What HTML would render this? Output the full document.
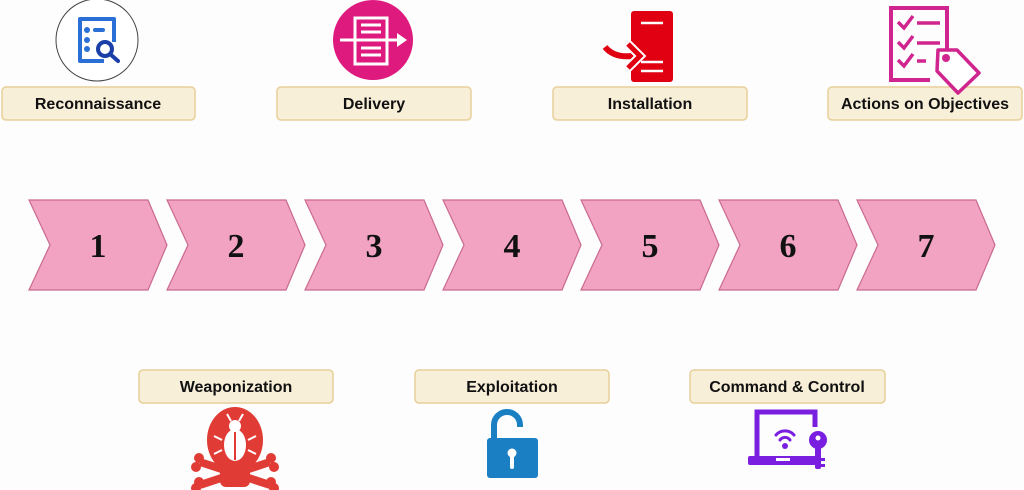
<!DOCTYPE html>
<html><head><meta charset="utf-8"><style>
html,body{margin:0;padding:0;background:#fdfdfd;}
svg{display:block}
.lbl{font-family:"Liberation Sans",sans-serif;font-weight:bold;font-size:16px;fill:#111;text-anchor:middle}
.num{font-family:"Liberation Serif",serif;font-weight:bold;font-size:34px;fill:#111;text-anchor:middle}
</style></head><body>
<svg width="1024" height="490" viewBox="0 0 1024 490" xmlns="http://www.w3.org/2000/svg">
<rect width="1024" height="490" fill="#fdfdfd"/>
<g fill="#f2a3c1" stroke="#c96a8e" stroke-width="1.2">
<polygon points="29,200 148,200 167,245 148,290 29,290 50,245"/>
<polygon points="167,200 286,200 305,245 286,290 167,290 188,245"/>
<polygon points="305,200 424,200 443,245 424,290 305,290 326,245"/>
<polygon points="443,200 562,200 581,245 562,290 443,290 464,245"/>
<polygon points="581,200 700,200 719,245 700,290 581,290 602,245"/>
<polygon points="719,200 838,200 857,245 838,290 719,290 740,245"/>
<polygon points="857,200 976,200 995,245 976,290 857,290 878,245"/>
</g>
<text class="num" x="98" y="257">1</text>
<text class="num" x="236" y="257">2</text>
<text class="num" x="374" y="257">3</text>
<text class="num" x="512" y="257">4</text>
<text class="num" x="650" y="257">5</text>
<text class="num" x="788" y="257">6</text>
<text class="num" x="926" y="257">7</text>
<g fill="#f8efd9" stroke="#e8cf9a" stroke-width="1.5">
<rect x="2" y="87" width="193" height="33" rx="4"/>
<rect x="277" y="87" width="194" height="33" rx="4"/>
<rect x="553" y="87" width="194" height="33" rx="4"/>
<rect x="828" y="87" width="194" height="33" rx="4"/>
<rect x="139" y="370" width="194" height="33" rx="4"/>
<rect x="415" y="370" width="194" height="33" rx="4"/>
<rect x="690" y="370" width="195" height="33" rx="4"/>
</g>
<text class="lbl" x="98" y="109">Reconnaissance</text>
<text class="lbl" x="374" y="109">Delivery</text>
<text class="lbl" x="650" y="109">Installation</text>
<text class="lbl" x="925" y="109">Actions on Objectives</text>
<text class="lbl" x="236" y="392">Weaponization</text>
<text class="lbl" x="512" y="392">Exploitation</text>
<text class="lbl" x="787" y="392">Command &amp; Control</text>
<circle cx="97" cy="40" r="41" fill="#fff" stroke="#444" stroke-width="1"/>
<path d="M104,61 H80 V19 H114 V42" fill="none" stroke="#2a6fd6" stroke-width="4" stroke-linejoin="round"/>
<circle cx="87" cy="30" r="3" fill="#2a6fd6"/><circle cx="87" cy="40" r="3" fill="#2a6fd6"/><circle cx="87" cy="49" r="3" fill="#2a6fd6"/>
<rect x="93" y="28" width="12" height="4" rx="2" fill="#2a6fd6"/>
<circle cx="105" cy="49" r="7" fill="none" stroke="#1a3fa8" stroke-width="4"/>
<line x1="110" y1="54" x2="118" y2="61" stroke="#1a3fa8" stroke-width="4" stroke-linecap="round"/>
<circle cx="373" cy="40" r="40" fill="#de1a7f"/>
<rect x="355" y="18" width="32" height="46" fill="none" stroke="#fff" stroke-width="3"/>
<g stroke="#fff" stroke-width="3"><line x1="361" y1="25" x2="381" y2="25"/><line x1="361" y1="32" x2="381" y2="32"/><line x1="361" y1="48" x2="381" y2="48"/><line x1="361" y1="55" x2="381" y2="55"/><line x1="340" y1="40" x2="398" y2="40"/></g>
<polygon points="397,33 407,40 397,47" fill="#fff"/>
<rect x="631" y="11" width="42" height="71" rx="3" fill="#e00012"/>
<g stroke="#fff" stroke-width="2.5"><line x1="641" y1="23" x2="663" y2="23"/><line x1="641" y1="62" x2="663" y2="62"/><line x1="641" y1="71" x2="663" y2="71"/></g>
<path d="M605,47 Q614,58 632,56" fill="none" stroke="#e00012" stroke-width="6"/>
<polyline points="628,44 640,56 628,68" fill="none" stroke="#fff" stroke-width="9"/>
<polyline points="628,44 640,56 628,68" fill="none" stroke="#e00012" stroke-width="5"/>
<path d="M947,50 V8 H891 V80 H930" fill="none" stroke="#d0258f" stroke-width="4"/>
<g fill="none" stroke="#d0258f" stroke-width="3.5"><polyline points="898,22 904,28 913,16"/><polyline points="898,42 904,48 913,36"/><polyline points="898,60 904,66 913,54"/><line x1="917" y1="23" x2="940" y2="23"/><line x1="917" y1="43" x2="940" y2="43"/><line x1="917" y1="61" x2="926" y2="61"/></g>
<path d="M938,50 L957,50 L979,73 L958,93 L937,71 Z" fill="#fff" stroke="#d0258f" stroke-width="3.5" stroke-linejoin="round"/>
<circle cx="946" cy="58" r="4" fill="#d0258f"/>
<g fill="#e13b35">
<ellipse cx="235" cy="440" rx="28" ry="33"/>
<rect x="220" y="465" width="30" height="22" rx="6"/>
<path d="M200,462 L270,485 M270,462 L200,485" stroke="#e13b35" stroke-width="8"/>
<circle cx="199" cy="458" r="5"/><circle cx="196" cy="467" r="5"/><circle cx="271" cy="458" r="5"/><circle cx="274" cy="467" r="5"/>
<circle cx="199" cy="482" r="5"/><circle cx="196" cy="488" r="5"/><circle cx="271" cy="482" r="5"/><circle cx="274" cy="488" r="5"/>
</g>
<ellipse cx="235" cy="445" rx="11" ry="16" fill="#fff"/>
<circle cx="235" cy="426" r="6" fill="#fff"/>
<line x1="235" y1="432" x2="235" y2="460" stroke="#e13b35" stroke-width="2"/>
<g stroke="#fff" stroke-width="2"><line x1="222" y1="440" x2="214" y2="436"/><line x1="248" y1="440" x2="256" y2="436"/><line x1="222" y1="450" x2="214" y2="454"/><line x1="248" y1="450" x2="256" y2="454"/><line x1="231" y1="421" x2="227" y2="414"/><line x1="239" y1="421" x2="243" y2="414"/></g>
<path d="M494,441 V425 A13,13 0 0 1 520,425 V427" fill="none" stroke="#1b7fc4" stroke-width="6"/>
<rect x="487" y="438" width="51" height="40" rx="3" fill="#1b7fc4"/>
<circle cx="512" cy="453" r="4.5" fill="#fff"/>
<rect x="510" y="455" width="4" height="14" rx="2" fill="#fff"/>
<path d="M815,427 V412 H757 V458" fill="none" stroke="#7a1fe0" stroke-width="5"/>
<rect x="748" y="456" width="70" height="9" rx="2" fill="#7a1fe0"/>
<rect x="776" y="458" width="14" height="3" fill="#fff"/>
<g fill="none" stroke="#7a1fe0" stroke-width="3" stroke-linecap="round"><path d="M776,435 A12,12 0 0 1 794,435"/><path d="M780,440 A6,6 0 0 1 790,440"/></g>
<circle cx="785" cy="446" r="3" fill="#7a1fe0"/>
<circle cx="818" cy="440" r="9" fill="#7a1fe0"/>
<circle cx="818" cy="438" r="2.5" fill="#fff"/>
<rect x="815" y="447" width="6" height="22" rx="2" fill="#7a1fe0"/>
<rect x="820" y="458" width="5" height="3" fill="#7a1fe0"/><rect x="820" y="464" width="5" height="3" fill="#7a1fe0"/>
</svg>
</body></html>
